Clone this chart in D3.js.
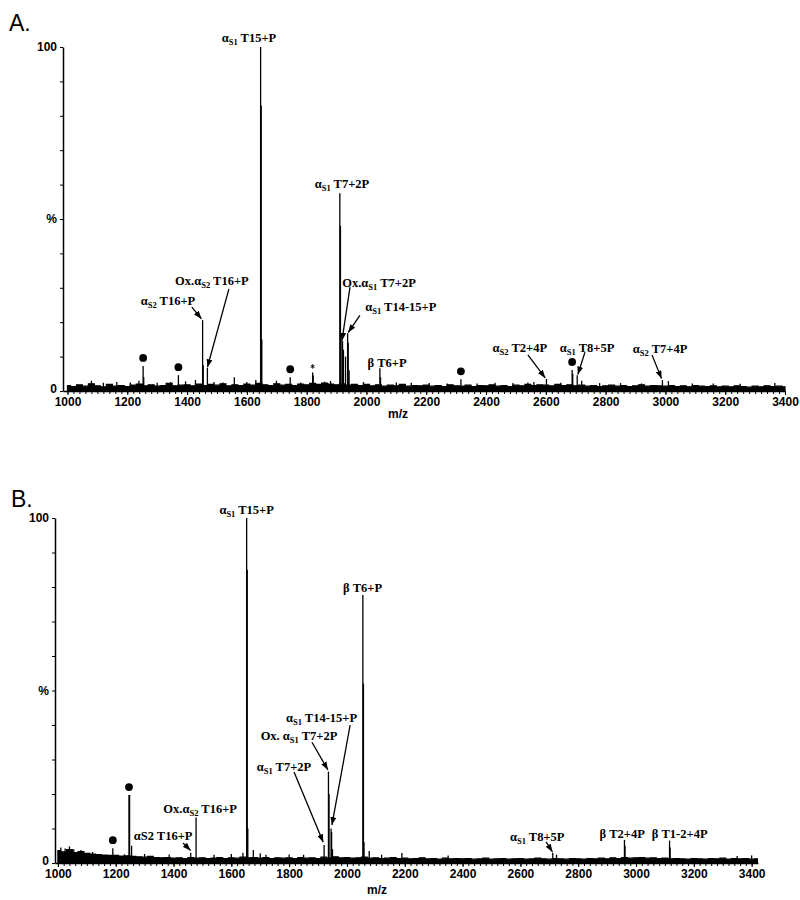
<!DOCTYPE html>
<html>
<head>
<meta charset="utf-8">
<script src="https://cdn.jsdelivr.net/npm/d3@7"></script>
<style>
body { margin: 0; background: #fff; }
.axis text { font-family: "Liberation Sans", Arial, sans-serif; font-weight: bold; font-size: 12px; fill: #000; }
.axis path, .axis line { stroke: #000; }
</style>
</head>
<body>
<script>
// baseline noise, one value every 20 m/z starting at 1000 (% intensity)
const noiseStart = 1000, noiseStep = 20;
const noiseA = [
    1.6,1.3,1.8,1.4,2.1,1.5,1.2,1.9,1.4,1.6,
    1.3,1.7,2.0,1.5,1.8,1.4,1.6,2.2,1.5,1.7,
    1.8,1.5,2.0,1.6,1.9,1.7,2.1,1.5,1.8,1.6,
    2.0,1.7,2.2,1.8,1.6,2.1,1.7,1.9,1.6,2.0,
    1.8,2.2,1.9,2.3,2.0,1.8,2.1,1.7,1.9,1.6,
    1.9,1.5,1.8,1.4,1.7,1.5,1.9,1.4,1.6,1.5,
    1.7,1.4,1.6,1.3,1.8,1.5,1.4,1.7,1.3,1.6,
    1.5,1.8,1.4,1.6,1.3,1.7,1.5,1.9,1.6,1.8,
    1.7,1.5,1.9,1.6,1.8,1.5,1.7,1.4,1.6,1.3,
    1.5,1.7,1.4,1.6,1.3,1.5,1.8,1.4,1.6,1.5,
    1.4,1.6,1.3,1.5,1.2,1.6,1.4,1.3,1.5,1.2,
    1.4,1.2,1.5,1.3,1.1,1.4,1.2,1.5,1.3,1.4,
    1.2
];
const noiseB = [
    3.6,3.2,3.9,3.0,3.3,2.8,2.6,2.4,2.3,2.2,
    2.2,2.0,2.1,1.9,1.8,1.7,1.9,1.6,1.5,1.6,
    1.4,1.5,1.3,1.6,1.4,1.5,1.3,1.4,1.6,1.3,
    1.5,1.4,1.7,1.5,1.6,1.4,1.6,1.3,1.5,1.4,
    1.5,1.3,1.6,1.4,1.5,1.3,1.7,1.4,1.8,1.5,
    1.6,1.4,1.5,1.7,1.4,1.5,1.3,1.4,1.6,1.3,
    1.4,1.2,1.3,1.5,1.2,1.3,1.1,1.4,1.2,1.3,
    1.2,1.3,1.1,1.2,1.4,1.1,1.2,1.3,1.1,1.2,
    1.3,1.1,1.2,1.4,1.2,1.1,1.3,1.2,1.1,1.3,
    1.2,1.1,1.3,1.2,1.4,1.2,1.5,1.3,1.6,1.4,
    1.5,1.6,1.4,1.5,1.3,1.4,1.2,1.3,1.2,1.1,
    1.3,1.2,1.1,1.3,1.2,1.4,1.1,1.3,1.2,1.3,
    1.1,1.2
];

// peaks [m/z, % intensity]
const peaksA = [
    [1080,3],[1120,2.4],[1165,2.6],[1210,2.5],[1239,3],[1253,7.3],[1255,4],[1300,2.4],
    [1345,2.6],[1371,4.6],[1395,2.8],[1428,3.2],[1452,20.6],[1454,7.5],[1468,6.7],[1490,2.6],
    [1520,2.5],[1558,4],[1600,2.6],[1630,3.2],[1646,100],[1648,83],[1650,15],[1699,3],
    [1745,4],[1780,2.5],[1820,5.4],[1822,4.5],[1860,2.7],[1880,2.9],[1911,57.5],[1913,48],
    [1915,15],[1920,14.5],[1923,12],[1930,10],[1937,16.8],[1939,14],[1942,6],[1990,2.6],
    [2045,6.6],[2047,4],[2100,2.5],[2150,2.4],[2210,2.3],[2270,2.2],[2316,3.4],[2370,2.2],
    [2430,2.4],[2490,2.3],[2540,2.5],[2560,2.6],[2602,3.5],[2650,2.4],[2688,6.1],[2690,5],
    [2705,4.6],[2720,3],[2780,2.3],[2850,2.3],[2920,2.2],[2990,3.2],[3010,2.9],[3090,2.2],
    [3160,2.2],[3250,2.1],[3366,2.3]
];
const peaksB = [
    [1010,4.5],[1025,4.2],[1040,4.8],[1055,4],[1080,3.8],[1120,3.2],[1190,4.3],[1230,2.5],
    [1246,19.7],[1248,19.7],[1255,5],[1300,2.6],[1385,2.5],[1459.5,3],[1478,13.2],[1540,2.4],
    [1600,2.6],[1640,3],[1653,100],[1655,85],[1657,10],[1676,3.8],[1700,2.8],[1720,2.4],
    [1800,2.5],[1850,2.4],[1921,5.2],[1936,26.5],[1938,20],[1945,10],[1947,9],[1950,4],
    [2055,77.7],[2057,52],[2059,6],[2077,3.5],[2120,2.4],[2190,2.9],[2350,2.2],[2712,3],
    [2725,2.4],[2960,6.7],[2962,5],[3116,6.5],[3118,4.5],[3350,2],[3400,2.2]
];

// peaks marked with a dot / asterisk
const dotsA = [1253, 1371, 1745, 2316, 2688];
const starsA = [1820];
const dotsB = [1190, 1246];
const starsB = [];

// labels: text parts, anchor [m/z, %], optional arrow [[m/z, %], [m/z, %]]
const labelsA = [
    { pre: "α", sub: "S1", post: " T15+P", at: [1607, 101.5] },
    { pre: "α", sub: "S1", post: " T7+2P", at: [1918, 59] },
    { pre: "Ox.α", sub: "S2", post: " T16+P", at: [1483, 30.8], arrow: [[1540, 29.7], [1468, 6.9]] },
    { pre: "α", sub: "S2", post: " T16+P", at: [1336, 25], arrow: [[1416, 24.4], [1448, 21]] },
    { pre: "Ox.α", sub: "S1", post: " T7+2P", at: [2042, 30.2], arrow: [[1945, 30.2], [1918, 14.6]] },
    { pre: "α", sub: "S1", post: " T14-15+P", at: [2115, 23.3], arrow: [[1978, 22], [1939, 17]] },
    { pre: "β T6+P", at: [2069, 7] },
    { pre: "α", sub: "S2", post: " T2+4P", at: [2513, 11.3], arrow: [[2540, 10.5], [2598, 3.8]] },
    { pre: "α", sub: "S1", post: " T8+5P", at: [2738, 11.3], arrow: [[2731, 11.3], [2707, 4.8]] },
    { pre: "α", sub: "S2", post: " T7+4P", at: [2982, 11], arrow: [[2955, 10.5], [2987, 3.6]] }
];
const labelsB = [
    { pre: "α", sub: "S1", post: " T15+P", at: [1653, 101.2] },
    { pre: "β T6+P", at: [2054, 78.6] },
    { pre: "α", sub: "S1", post: " T14-15+P", at: [1912, 40.9], arrow: [[2011, 40], [1948, 11]] },
    { pre: "Ox. α", sub: "S1", post: " T7+2P", at: [1834, 35.7], arrow: [[1879, 35], [1934, 27]] },
    { pre: "α", sub: "S1", post: " T7+2P", at: [1782, 26.7], arrow: [[1817, 26.4], [1918, 6]] },
    { pre: "Ox.α", sub: "S2", post: " T16+P", at: [1492, 14.5] },
    { pre: "αS2 T16+P", at: [1364, 6.7], arrow: [[1433, 5.8], [1459, 3.6]] },
    { pre: "α", sub: "S1", post: " T8+5P", at: [2658, 6.4], arrow: [[2689, 6.1], [2711, 3.2]] },
    { pre: "β T2+4P", at: [2952, 7.2] },
    { pre: "β T1-2+4P", at: [3151, 7.2] }
];

const xTicks = d3.range(1000, 3401, 200);
const xMinor = d3.range(1000, 3401, 20);
const yTicks = d3.range(0, 101, 10);

const serif = "'Liberation Serif', 'Times New Roman', 'DejaVu Serif', serif";
const w = 800, h = 900;
const svg = d3.select("body").append("svg")
    .attr("width", w)
    .attr("height", h);

svg.append("defs").append("marker")
    .attr("id", "head")
    .attr("markerUnits", "userSpaceOnUse")
    .attr("viewBox", "0 0 8 6")
    .attr("refX", 8).attr("refY", 3)
    .attr("markerWidth", 8).attr("markerHeight", 6)
    .attr("orient", "auto")
    .append("path")
    .attr("d", "M0,0L8,3L0,6Z")
    .attr("fill", "#000");

function panel(frame, noise, peaks, dots, stars, labels) {
    let xScale = d3.scaleLinear().domain(frame.domain).range([frame.left, frame.right]);
    let yScale = d3.scaleLinear().domain([0, 100]).range([frame.bottom, frame.top]);
    let g = svg.append("g");

    // panel letter
    g.append("text")
        .attr("x", frame.letterX).attr("y", frame.letterY)
        .attr("font-family", "'Liberation Sans', Arial, sans-serif")
        .attr("font-size", 23)
        .text(frame.letter);

    // baseline noise band
    let area = d3.area()
        .x((d, i) => xScale(noiseStart + i * noiseStep))
        .y0(yScale(0))
        .y1(d => yScale(d))
        .curve(d3.curveStep);
    g.append("path")
        .datum(noise)
        .attr("d", area)
        .attr("fill", "#000")
        .attr("stroke", "#000")
        .attr("stroke-width", 1.2);

    // peaks as sticks
    g.selectAll(".peak")
        .data(peaks)
        .enter()
        .append("line")
        .attr("class", "peak")
        .attr("x1", d => xScale(d[0]))
        .attr("x2", d => xScale(d[0]))
        .attr("y1", yScale(0))
        .attr("y2", d => yScale(d[1]))
        .attr("stroke", "#000")
        .attr("stroke-width", 1.3);

    let top = mz => d3.max(peaks.filter(p => Math.abs(p[0] - mz) < 3), p => p[1]);

    g.selectAll(".dot")
        .data(dots)
        .enter()
        .append("circle")
        .attr("cx", d => xScale(d))
        .attr("cy", d => yScale(top(d)) - 8)
        .attr("r", 3.9)
        .attr("fill", "#000");

    g.selectAll(".star")
        .data(stars)
        .enter()
        .append("path")
        .attr("transform", d => "translate(" + xScale(d) + "," + (yScale(top(d)) - 6) + ")")
        .attr("d", d3.symbol(d3.symbolAsterisk, 14))
        .attr("fill", "none")
        .attr("stroke", "#000")
        .attr("stroke-width", 0.9);

    // arrows
    g.selectAll(".arrow")
        .data(labels.filter(l => l.arrow))
        .enter()
        .append("line")
        .attr("x1", d => xScale(d.arrow[0][0]))
        .attr("y1", d => yScale(d.arrow[0][1]))
        .attr("x2", d => xScale(d.arrow[1][0]))
        .attr("y2", d => yScale(d.arrow[1][1]))
        .attr("stroke", "#000")
        .attr("stroke-width", 1.3)
        .attr("marker-end", "url(#head)");

    // peak labels
    labels.forEach(l => {
        let t = g.append("text")
            .attr("x", xScale(l.at[0]))
            .attr("y", yScale(l.at[1]))
            .attr("text-anchor", "middle")
            .attr("font-family", serif)
            .attr("font-weight", "bold")
            .attr("font-size", 12.5)
            .attr("fill", "#000");
        t.append("tspan").text(l.pre);
        if (l.sub) {
            t.append("tspan").attr("dy", 3).attr("font-size", 8.5).text(l.sub);
            t.append("tspan").attr("dy", -3).text(l.post);
        }
    });

    // axes
    g.append("g")
        .attr("class", "axis")
        .attr("transform", "translate(0," + frame.bottom + ")")
        .call(d3.axisBottom(xScale).tickValues(xMinor).tickSize(3).tickFormat(""))
        .call(a => a.select(".domain").remove());
    g.append("g")
        .attr("class", "axis")
        .attr("transform", "translate(0," + frame.bottom + ")")
        .call(d3.axisBottom(xScale).tickValues(xTicks).tickSize(4).tickSizeOuter(0).tickPadding(2)
            .tickFormat(d3.format("d")))
        .call(a => a.select(".domain").attr("stroke-width", 1.5));
    g.append("g")
        .attr("class", "axis")
        .attr("transform", "translate(" + frame.left + ",0)")
        .call(d3.axisLeft(yScale).tickValues(yTicks).tickSize(3).tickSizeOuter(0).tickPadding(3)
            .tickFormat(d => d === 0 ? "0" : d === 50 ? "%" : d === 100 ? "100" : ""))
        .call(a => a.select(".domain").attr("stroke-width", 1.5))
        .call(a => a.selectAll(".tick text").filter(d => d === 0).attr("dy", "0.1em"));

    g.append("text")
        .attr("x", frame.titleX).attr("y", frame.titleY)
        .attr("text-anchor", "middle")
        .attr("font-family", "'Liberation Sans', Arial, sans-serif")
        .attr("font-weight", "bold")
        .attr("font-size", 12)
        .text("m/z");
}

panel({ letter: "A.", letterX: 9, letterY: 31, left: 63, right: 785, top: 47, bottom: 391,
        domain: [985, 3400], titleX: 398, titleY: 418 },
    noiseA, peaksA, dotsA, starsA, labelsA);
panel({ letter: "B.", letterX: 11, letterY: 507, left: 55, right: 758, top: 518, bottom: 863,
        domain: [990, 3422], titleX: 377, titleY: 894 },
    noiseB, peaksB, dotsB, starsB, labelsB);
</script>
</body>
</html>
